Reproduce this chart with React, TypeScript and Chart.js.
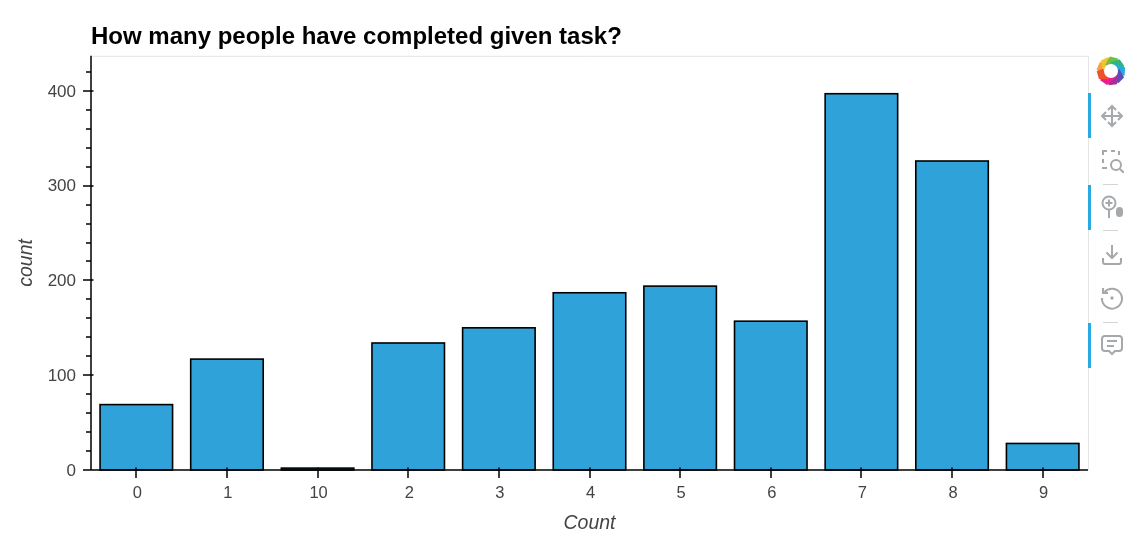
import React, { useEffect, useRef } from "react";
import { Chart, registerables } from "chart.js";

Chart.register(...registerables);

const categories = ["0", "1", "10", "2", "3", "4", "5", "6", "7", "8", "9"];
const counts = [69, 117, 2, 134, 150, 187, 194, 157, 397, 326, 28];
const titleText = "How many people have completed given task?";
const xTitle = "Count";
const yTitle = "count";
const yMax = 437;

const FONT = '"Liberation Sans", Arial, sans-serif';

const axisTicks = {
  id: "axisTicks",
  afterDatasetsDraw(chart: any) {
    const { ctx, chartArea: a, scales } = chart;
    ctx.save();
    ctx.strokeStyle = "#000";
    ctx.lineWidth = 1.6;
    chart.getDatasetMeta(0).data.forEach((el: any) => {
      const w = el.width;
      ctx.strokeRect(el.x - w / 2, el.y, w, el.base - el.y);
    });
    ctx.strokeStyle = "#e5e5e5";
    ctx.lineWidth = 1;
    ctx.beginPath();
    ctx.moveTo(a.left, a.top + 0.5);
    ctx.lineTo(a.right + 0.5, a.top + 0.5);
    ctx.lineTo(a.right + 0.5, a.bottom);
    ctx.stroke();
    ctx.strokeStyle = "#000";
    ctx.lineWidth = 1.5;
    ctx.beginPath();
    ctx.moveTo(a.left, a.top);
    ctx.lineTo(a.left, a.bottom);
    ctx.moveTo(a.left - 8, a.bottom);
    ctx.lineTo(a.right, a.bottom);
    scales.y.ticks.forEach((t: any) => {
      const p = Math.round(scales.y.getPixelForValue(t.value));
      const major = t.value % 100 === 0;
      ctx.moveTo(a.left - (major ? 8 : 5), p);
      ctx.lineTo(a.left + (major ? 2.5 : 0), p);
    });
    categories.forEach((_, i) => {
      const p = Math.round(scales.x.getPixelForTick(i));
      ctx.moveTo(p, a.bottom - 2.5);
      ctx.lineTo(p, a.bottom + 8);
    });
    ctx.stroke();
    ctx.restore();
  },
};

const bar = { position: "absolute" as const, left: 1088, width: 3, background: "#26aae1" };
const sep = { position: "absolute" as const, left: 1103, width: 15, height: 1, background: "#d4d4d4" };
const icon = { position: "absolute" as const, left: 1100, width: 24, height: 24 };
const g = { fill: "none", stroke: "#a6a9ab", strokeWidth: 2 };

const logoColors = ["#f7a13a", "#f4c430", "#6cc04a", "#2fb67a", "#27aae1", "#5b4fb5", "#a62f9f", "#ec1c8c", "#f1502f"];

export default function App() {
  const ref = useRef<HTMLCanvasElement>(null);
  useEffect(() => {
    const chart = new Chart(ref.current!, {
      type: "bar",
      data: {
        labels: categories,
        datasets: [
          {
            data: counts,
            backgroundColor: "#30a2da",
            borderWidth: 0,
            barPercentage: 0.8,
            categoryPercentage: 1,
          },
        ],
      },
      options: {
        animation: false,
        responsive: false,
        layout: { padding: { top: 0, right: 55, left: 0, bottom: 0 } },
        plugins: {
          legend: { display: false },
          tooltip: { enabled: false },
          title: {
            display: true,
            text: titleText,
            align: "start",
            fullSize: false,
            color: "#000",
            font: { family: FONT, size: 24, weight: "bold" },
            padding: { top: 23, bottom: 4 },
          },
        },
        scales: {
          x: {
            grid: { display: false, drawTicks: false },
            border: { display: false },
            ticks: { color: "#444", font: { family: FONT, size: 16.5 }, padding: 14, maxRotation: 0, labelOffset: 1 },
            title: {
              display: true,
              text: xTitle,
              color: "#444",
              font: { family: FONT, size: 19.5, style: "italic" },
              padding: { top: 10, bottom: 11 },
            },
            afterFit: (s: any) => {
              s.height = 76;
            },
          },
          y: {
            min: 0,
            max: yMax,
            grid: { display: false, drawTicks: false },
            border: { display: false },
            afterBuildTicks: (s: any) => {
              const out = [];
              for (let v = 0; v <= yMax; v += 20) out.push({ value: v });
              s.ticks = out;
            },
            ticks: {
              autoSkip: false,
              color: "#444",
              font: { family: FONT, size: 17 },
              padding: 15,
              labelOffset: 1,
              callback: (v: any) => (Number(v) % 100 === 0 ? String(v) : ""),
            },
            title: {
              display: true,
              text: yTitle,
              color: "#444",
              font: { family: FONT, size: 19.5, style: "italic" },
              padding: { top: 15, bottom: 0 },
            },
            afterFit: (s: any) => {
              s.width = 91;
            },
          },
        },
      },
      plugins: [axisTicks],
    } as any);
    return () => chart.destroy();
  }, []);

  return (
    <div style={{ position: "fixed", left: 0, top: 0, width: 1143, height: 546, background: "#fff" }}>
      <canvas ref={ref} width={1143} height={546} style={{ display: "block", position: "absolute", left: 0, top: 0 }} />
      <svg style={{ position: "absolute", left: 1095, top: 55, width: 32, height: 32, filter: "blur(0.4px)" }} viewBox="-16 -16 32 32">
        {logoColors.map((c, i) => (
          <path key={c} d="M -6 -6 L -1 -14.5 L 7 -12.5 L 6 -6 Z" fill={c} transform={`rotate(${i * 40 - 80})`} />
        ))}
        <circle r="7" fill="#fff" />
      </svg>
      <div style={{ ...bar, top: 93, height: 45 }} />
      <div style={{ ...bar, top: 185, height: 45 }} />
      <div style={{ ...bar, top: 323, height: 45 }} />
      <div style={{ ...sep, top: 184 }} />
      <div style={{ ...sep, top: 230 }} />
      <div style={{ ...sep, top: 322 }} />
      <svg style={{ ...icon, top: 104 }} viewBox="0 0 24 24">
        <path d="M12 2V22M2 12H22" {...g} />
        <path d="M8 6L12 2L16 6M8 18L12 22L16 18M6 8L2 12L6 16M18 8L22 12L18 16" {...g} />
      </svg>
      <svg style={{ ...icon, top: 149 }} viewBox="0 0 24 24">
        <path d="M7 2H3V6M3 10V14M3 18V19H7M11 2H15M19 2V6" {...g} />
        <circle cx="16" cy="16" r="5" {...g} />
        <path d="M20 20L24 24" {...g} />
      </svg>
      <svg style={{ ...icon, top: 195 }} viewBox="0 0 24 24">
        <circle cx="9" cy="8" r="6.5" {...g} />
        <path d="M5.5 8H12.5M9 4.5V11.5M9 15V23" {...g} />
        <rect x="16" y="12" width="7" height="10" rx="3.5" fill="#a6a9ab" />
      </svg>
      <svg style={{ ...icon, top: 242 }} viewBox="0 0 24 24">
        <path d="M12 3V16M6.5 10.5L12 16L17.5 10.5M3 16V20Q3 22 5 22H19Q21 22 21 20V16" {...g} />
      </svg>
      <svg style={{ ...icon, top: 286 }} viewBox="0 0 24 24">
        <path d="M4.5 6A10 10 0 1 1 2 12M3 2V7H8" {...g} />
        <circle cx="12" cy="12" r="1.7" fill="#a6a9ab" />
      </svg>
      <svg style={{ ...icon, top: 333 }} viewBox="0 0 24 24">
        <path d="M5 3H19Q22 3 22 6V15Q22 18 19 18H15L12 21L9 18H5Q2 18 2 15V6Q2 3 5 3Z" {...g} />
        <path d="M7 8H17M7 13H14" {...g} />
      </svg>
    </div>
  );
}
